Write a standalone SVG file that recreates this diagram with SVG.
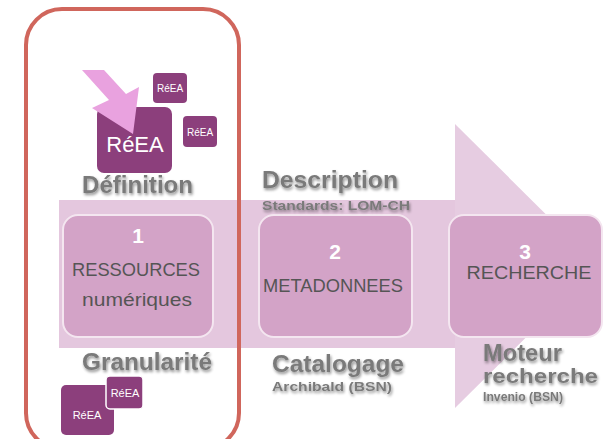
<svg xmlns="http://www.w3.org/2000/svg" width="612" height="439" viewBox="0 0 612 439">
<defs>
<filter id="sh" x="-10%" y="-30%" width="120%" height="160%">
<feGaussianBlur in="SourceAlpha" stdDeviation="1.5"/>
<feOffset dx="1" dy="2" result="b"/>
<feComponentTransfer><feFuncA type="linear" slope="0.45"/></feComponentTransfer>
<feMerge><feMergeNode/><feMergeNode in="SourceGraphic"/></feMerge>
</filter>
</defs>
<style>
.lbl{font-family:"Liberation Sans",Arial,sans-serif;font-weight:bold;fill:#7a7a7a;filter:url(#sh)}
.big{font-size:23px}
.sm{font-size:13px}
.box{fill:#d3a3c7;stroke:#f4e6f0;stroke-width:2}
.num{font-family:"Liberation Sans",Arial,sans-serif;font-weight:bold;font-size:21px;fill:#fff;text-anchor:middle}
.bt{font-family:"Liberation Sans",Arial,sans-serif;font-size:18px;fill:#555;text-anchor:middle}
.sq{fill:#8c3f7c}
.rt{font-family:"Liberation Sans",Arial,sans-serif;fill:#fff;text-anchor:middle}
</style>
<rect width="612" height="439" fill="#fff"/>
<g id="flow-arrow">
<rect x="59" y="200" width="397" height="148" fill="#e4c7de"/>
<polygon points="455,124 598,266 455,408" fill="#e6cce1"/>
</g>
<g id="node1">
<rect class="box" x="63" y="215" width="150" height="122" rx="15"/>
<text class="num" x="138" y="243">1</text>
<text class="bt" x="136" y="276" textLength="128" lengthAdjust="spacingAndGlyphs">RESSOURCES</text>
<text class="bt" x="137" y="306" textLength="110" lengthAdjust="spacingAndGlyphs">numériques</text>
</g>
<g id="node2">
<rect class="box" x="259" y="215" width="153" height="122" rx="15"/>
<text class="num" x="335" y="259">2</text>
<text class="bt" x="333" y="292" textLength="140" lengthAdjust="spacingAndGlyphs">METADONNEES</text>
</g>
<g id="node3">
<rect class="box" x="449" y="215" width="153" height="122" rx="15"/>
<text class="num" x="525" y="259">3</text>
<text class="bt" x="529" y="279" textLength="125" lengthAdjust="spacingAndGlyphs">RECHERCHE</text>
</g>
<g id="definition">
<rect class="sq" x="153" y="73" width="34" height="30" rx="4"/>
<text class="rt" x="170" y="92" font-size="10">RéEA</text>
<rect class="sq" x="183" y="116" width="34" height="31" rx="4"/>
<text class="rt" x="200" y="136" font-size="10">RéEA</text>
<rect class="sq" x="97" y="107" width="75" height="66" rx="7"/>
<text class="rt" x="135" y="152" font-size="22">RéEA</text>
<polygon points="82,70 104,70 126,94 139,87 133,134 92,108 109,100" fill="#e9a2df"/>
<text class="lbl big" x="82" y="193" textLength="111" lengthAdjust="spacingAndGlyphs">Définition</text>
</g>
<g id="granularite">
<text class="lbl big" x="82" y="370" textLength="130" lengthAdjust="spacingAndGlyphs">Granularité</text>
<rect class="sq" x="61" y="385" width="53" height="50" rx="5"/>
<text class="rt" x="87" y="419" font-size="11">RéEA</text>
<rect class="sq" x="106" y="376" width="37" height="33" rx="4" stroke="#fff" stroke-width="1.5"/>
<text class="rt" x="125" y="397" font-size="11">RéEA</text>
</g>
<g id="description">
<text class="lbl big" x="262" y="188" textLength="136" lengthAdjust="spacingAndGlyphs">Description</text>
<text class="lbl sm" x="262" y="210" textLength="148" lengthAdjust="spacingAndGlyphs">Standards: LOM-CH</text>
</g>
<g id="catalogage">
<text class="lbl big" x="272" y="372" textLength="132" lengthAdjust="spacingAndGlyphs">Catalogage</text>
<text class="lbl sm" x="272" y="391" font-size="14" textLength="120" lengthAdjust="spacingAndGlyphs">Archibald (BSN)</text>
</g>
<g id="moteur">
<text class="lbl big" x="483" y="361" textLength="79" lengthAdjust="spacingAndGlyphs">Moteur</text>
<text class="lbl" x="483" y="383" font-size="21" textLength="115" lengthAdjust="spacingAndGlyphs">recherche</text>
<text class="lbl" x="483" y="401" font-size="12" font-weight="normal" textLength="80" lengthAdjust="spacingAndGlyphs">Invenio (BSN)</text>
</g>
<g id="highlight">
<rect x="26" y="9" width="213" height="440" rx="36" fill="none" stroke="#d0665c" stroke-width="4"/>
</g>
<g id="connectors"/>
</svg>
